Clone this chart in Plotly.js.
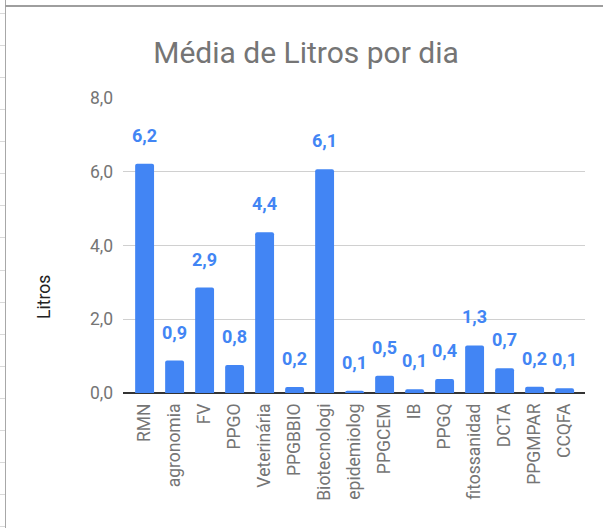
<!DOCTYPE html>
<html>
<head>
<meta charset="utf-8">
<script src="https://cdn.plot.ly/plotly-3.0.1.min.js"></script>
<style>
  html, body { margin: 0; padding: 0; background: #fff; }
  #chart { position: absolute; left: 0; top: 0; width: 603px; height: 528px; }
  .vline { position: absolute; left: 5px; top: 0; width: 1px; height: 528px; background: #a8a8a8; }
  .hline { position: absolute; left: 5px; top: 5px; width: 598px; height: 2px; background: #9e9e9e; }
  .rowtick { position: absolute; left: 0; width: 5px; height: 1px; background: #d9d9d9; }
</style>
</head>
<body>
<div id="chart"></div>
<div class="vline"></div>
<div class="hline"></div>
<script>
const categories = ["RMN", "agronomia", "FV", "PPGO", "Veterinária", "PPGBBIO", "Biotecnologi",
  "epidemiolog", "PPGCEM", "IB", "PPGQ", "fitossanidad", "DCTA", "PPGMPAR", "CCQFA"];
const litros = [6.22, 0.88, 2.86, 0.76, 4.36, 0.16, 6.07, 0.06, 0.47, 0.1, 0.38, 1.29, 0.67, 0.17, 0.13];
const yTicks = [0, 2, 4, 6, 8];
const yTickLabels = ["0,0", "2,0", "4,0", "6,0", "8,0"];

// spreadsheet row ticks (decoration)
for (let k = 0; k < 17; k++) {
  const d = document.createElement('div');
  d.className = 'rowtick';
  d.style.top = (13 + 32.07 * k).toFixed(0) + 'px';
  document.body.appendChild(d);
}

const blue = '#4285F4';
const font = 'Roboto, Arial, sans-serif';

const labelAnnotations = categories.map((c, i) => ({
  x: c, y: litros[i], xref: 'x', yref: 'y',
  text: litros[i].toFixed(1).replace('.', ','),
  showarrow: false, yanchor: 'bottom', yshift: 16,
  font: { family: font, size: 18, color: blue, weight: 'bold' }
}));

const trace = {
  type: 'bar',
  x: categories,
  y: litros,
  marker: { color: blue, cornerradius: 2 },
  width: 0.63,
  hoverinfo: 'none'
};

const layout = {
  width: 603, height: 528,
  margin: { l: 123, r: 18, t: 98, b: 135 },
  paper_bgcolor: 'rgba(0,0,0,0)',
  plot_bgcolor: 'rgba(0,0,0,0)',
  font: { family: font, color: '#757575' },
  showlegend: false,
  title: {
    text: 'Média de Litros por dia',
    font: { family: font, size: 30, color: '#757575' },
    x: 306 / 603, xref: 'container', xanchor: 'center',
    y: 1 - 52 / 528, yref: 'container', yanchor: 'middle'
  },
  xaxis: {
    type: 'category',
    range: [-0.72, 14.68],
    tickangle: -90,
    tickfont: { family: font, size: 17.5, color: '#757575' },
    showgrid: false,
    showline: false,
    ticks: '',
    ticklabelstandoff: 6,
    fixedrange: true
  },
  yaxis: {
    range: [0, 8],
    tickvals: yTicks,
    ticktext: yTickLabels,
    tickfont: { family: font, size: 17.5, color: '#757575' },
    gridcolor: '#d0d0d0',
    gridwidth: 1,
    zeroline: true,
    zerolinecolor: '#333333',
    zerolinewidth: 1.5,
    showline: false,
    ticks: '',
    ticklabelstandoff: 9,
    fixedrange: true
  },
  annotations: labelAnnotations.concat([{
    text: 'Litros', xref: 'paper', yref: 'paper',
    x: (44 - 123) / 462, y: (393 - 297) / 295,
    xanchor: 'center', yanchor: 'middle', textangle: -90, showarrow: false,
    font: { family: font, size: 17.5, color: '#222222' }
  }])
};

Plotly.newPlot('chart', [trace], layout, { staticPlot: true, displayModeBar: false });
</script>
</body>
</html>
